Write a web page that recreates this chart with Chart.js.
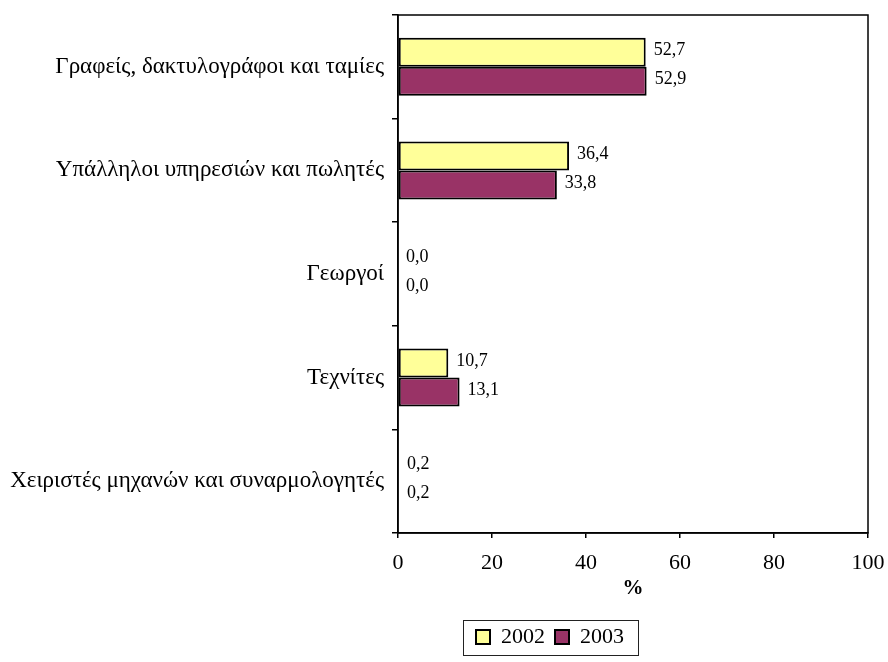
<!DOCTYPE html>
<html>
<head>
<meta charset="utf-8">
<script src="https://cdn.jsdelivr.net/npm/chart.js@4"></script>
<style>
  html, body { margin: 0; padding: 0; background: #fff; }
  #wrap { width: 888px; height: 662px; }
</style>
</head>
<body>
<div id="wrap"><canvas id="chart"></canvas></div>
<script>
const categories = [
  "Γραφείς, δακτυλογράφοι και ταμίες",
  "Υπάλληλοι υπηρεσιών και πωλητές",
  "Γεωργοί",
  "Τεχνίτες",
  "Χειριστές μηχανών και συναρμολογητές"
];
const values2002 = [52.7, 36.4, 0.0, 10.7, 0.2];
const values2003 = [52.9, 33.8, 0.0, 13.1, 0.2];
const seriesLabels = ["2002", "2003"];

const FONT = "'Liberation Serif', 'Times New Roman', serif";
const LEGEND_CENTER_X = 550;

// value labels at the end of every bar, Greek decimal comma
const barLabels = {
  id: 'barLabels',
  afterDatasetsDraw(chart) {
    const ctx = chart.ctx;
    ctx.save();
    ctx.font = "18px " + FONT;
    ctx.fillStyle = '#000';
    ctx.textBaseline = 'middle';
    ctx.textAlign = 'left';
    chart.data.datasets.forEach((ds, i) => {
      chart.getDatasetMeta(i).data.forEach((bar, j) => {
        const txt = ds.data[j].toFixed(1).replace('.', ',');
        ctx.fillText(txt, bar.x + 8, bar.y - 2);
      });
    });
    ctx.restore();
  }
};

// move the legend block sideways, under the middle of the chart
const legendShift = {
  id: 'legendShift',
  afterLayout(chart) {
    const lg = chart.legend;
    if (!lg) return;
    const d = LEGEND_CENTER_X - (lg.left + lg.right) / 2;
    lg.left += d;
    lg.right += d;
  }
};

// frame round the plot area and round the legend
const frames = {
  id: 'frames',
  afterDraw(chart) {
    const ctx = chart.ctx;
    const a = chart.chartArea;
    ctx.save();
    ctx.strokeStyle = '#000';
    ctx.lineWidth = 1.5;
    ctx.strokeRect(a.left, a.top, a.right - a.left, a.bottom - a.top);
    const w = 175, h = 35;
    ctx.lineWidth = 1;
    ctx.strokeStyle = '#222';
    ctx.strokeRect(Math.round(LEGEND_CENTER_X - w / 2) + 0.5, 620.5, w, h);
    ctx.restore();
  }
};

new Chart(document.getElementById('chart'), {
  type: 'bar',
  data: {
    labels: categories,
    datasets: [
      {
        label: seriesLabels[0],
        data: values2002,
        backgroundColor: '#FFFF99',
        borderColor: '#000',
        borderWidth: 2,
        borderSkipped: false
      },
      {
        label: seriesLabels[1],
        data: values2003,
        backgroundColor: '#993366',
        borderColor: '#000',
        borderWidth: 2,
        borderSkipped: false
      }
    ]
  },
  options: {
    indexAxis: 'y',
    responsive: true,
    maintainAspectRatio: false,
    animation: false,
    categoryPercentage: 0.56,
    barPercentage: 1.0,
    layout: { padding: { top: 15, right: 20, left: 0, bottom: 4 } },
    scales: {
      x: {
        min: 0,
        max: 100,
        ticks: { stepSize: 20, color: '#000', font: { family: FONT, size: 22 }, padding: 12 },
        grid: { drawOnChartArea: false, drawTicks: true, tickLength: 5, color: '#000', lineWidth: 1.5 },
        border: { color: '#000', width: 1.5 },
        title: { display: true, text: '%', color: '#000', font: { family: FONT, size: 21, weight: 'bold' }, padding: { top: 0, bottom: 15 } },
        afterFit(scale) {
          scale.height = 83;
          scale.paddingLeft = 0;
          scale.paddingRight = 0;
        }
      },
      y: {
        ticks: { color: '#000', font: { family: FONT, size: 23 }, padding: 8 },
        grid: { drawOnChartArea: false, drawTicks: true, tickLength: 6, color: '#000', lineWidth: 1.5, offset: true },
        border: { color: '#000', width: 1.5 },
        afterFit(scale) {
          scale.width = 398;
          scale.paddingTop = 0;
          scale.paddingBottom = 0;
        }
      }
    },
    plugins: {
      legend: {
        position: 'bottom',
        labels: {
          color: '#000',
          font: { family: FONT, size: 22 },
          boxWidth: 14,
          boxHeight: 14,
          padding: 10,
          useBorderRadius: false
        }
      },
      tooltip: { enabled: false }
    }
  },
  plugins: [legendShift, barLabels, frames]
});
</script>
</body>
</html>
